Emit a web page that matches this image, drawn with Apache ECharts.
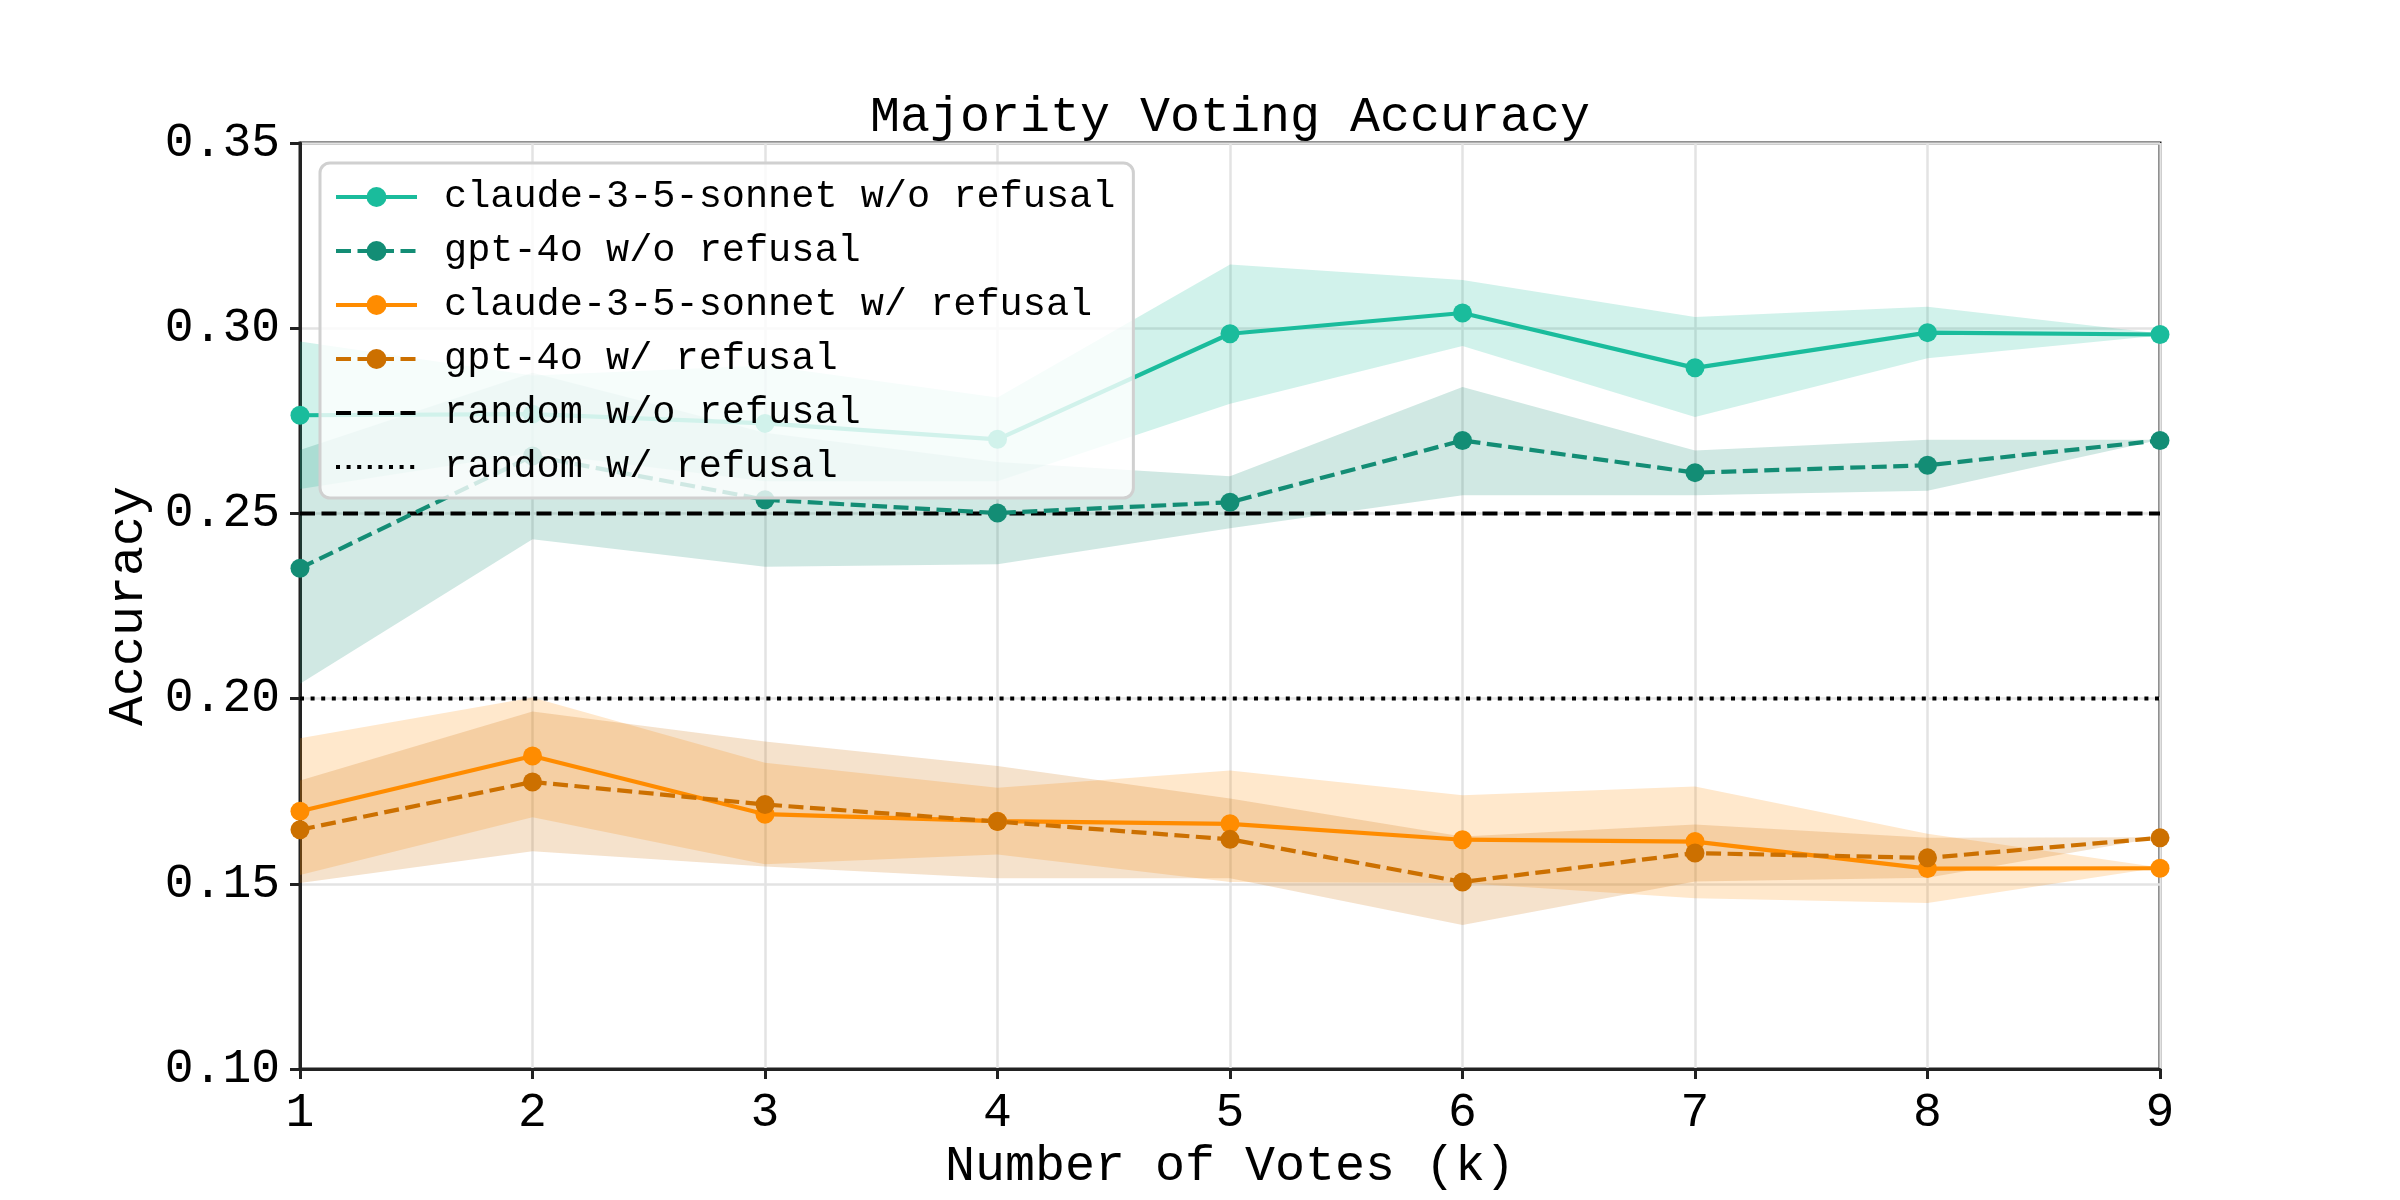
<!DOCTYPE html>
<html><head><meta charset="utf-8">
<script src="https://cdn.jsdelivr.net/npm/echarts@6/dist/echarts.min.js"></script>
<style>html,body{margin:0;padding:0;background:#fff}#c{width:2400px;height:1200px}</style>
</head><body><div id="c"></div>
<script>
// ---- data ----
const votes = ['1', '2', '3', '4', '5', '6', '7', '8', '9'];

const claudeNoRef   = [0.2765, 0.2768, 0.2743, 0.2700, 0.2985, 0.3041, 0.2893, 0.2988, 0.2983];
const claudeNoRefLo = [0.2566, 0.2664, 0.2587, 0.2587, 0.2796, 0.2952, 0.2760, 0.2919, 0.2980];
const claudeNoRefHi = [0.2964, 0.2872, 0.2899, 0.2813, 0.3172, 0.3130, 0.3030, 0.3058, 0.2986];

const gptNoRef   = [0.2352, 0.2655, 0.2537, 0.2501, 0.2530, 0.2697, 0.2610, 0.2630, 0.2697];
const gptNoRefLo = [0.2040, 0.2430, 0.2356, 0.2363, 0.2460, 0.2549, 0.2549, 0.2561, 0.2695];
const gptNoRefHi = [0.2671, 0.2880, 0.2718, 0.2639, 0.2600, 0.2841, 0.2670, 0.2699, 0.2699];

const claudeRef   = [0.1696, 0.1845, 0.1688, 0.1669, 0.1662, 0.1619, 0.1614, 0.1541, 0.1542];
const claudeRefLo = [0.1524, 0.1680, 0.1553, 0.1579, 0.1505, 0.1502, 0.1461, 0.1448, 0.1540];
const claudeRefHi = [0.1893, 0.2003, 0.1827, 0.1759, 0.1806, 0.1739, 0.1763, 0.1635, 0.1544];

const gptRef   = [0.1646, 0.1775, 0.1714, 0.1668, 0.1620, 0.1505, 0.1583, 0.1570, 0.1624];
const gptRefLo = [0.1502, 0.1588, 0.1547, 0.1515, 0.1515, 0.1389, 0.1506, 0.1516, 0.1622];
const gptRefHi = [0.1779, 0.1965, 0.1884, 0.1818, 0.1730, 0.1628, 0.1660, 0.1624, 0.1626];

const randomNoRef = 0.25;
const randomRef = 0.20;

const yTicks = { min: 0.10, max: 0.35, interval: 0.05 };

const names = {
  c1: 'claude-3-5-sonnet w/o refusal',
  g1: 'gpt-4o w/o refusal',
  c2: 'claude-3-5-sonnet w/ refusal',
  g2: 'gpt-4o w/ refusal',
  r1: 'random w/o refusal',
  r2: 'random w/ refusal'
};

// ---- styling ----
const FONT = "'Liberation Mono', 'Courier New', monospace";
const colors = { c1: '#1abc9c', g1: '#138d75', c2: '#ff8c00', g2: '#cc7000' };
const DASH = [15, 6.5];
const DOT = [4, 6.6];

function band(key, lo, hi, rgba) {
  return [
    { type: 'line', stack: 'band-' + key, data: lo, symbol: 'none', silent: true,
      lineStyle: { opacity: 0, width: 0 }, z: 1 },
    { type: 'line', stack: 'band-' + key, data: hi.map((h, i) => h - lo[i]), symbol: 'none', silent: true,
      lineStyle: { opacity: 0, width: 0 }, areaStyle: { color: rgba, opacity: 1 }, z: 1 }
  ];
}

function dataLine(key, data, dashed) {
  return { type: 'line', name: names[key], data: data, symbol: 'circle', symbolSize: 19,
    showAllSymbol: true, z: 3,
    itemStyle: { color: colors[key] },
    lineStyle: { color: colors[key], width: 4.2, type: dashed ? DASH : 'solid' } };
}

function refLine(key, val, dash) {
  return { type: 'line', name: names[key], data: [[votes[0], val], [votes[votes.length - 1], val]],
    symbol: 'none', z: 2, itemStyle: { color: '#000' },
    lineStyle: { color: '#000', width: 4, type: dash } };
}

const chart = echarts.init(document.getElementById('c'), null, { renderer: 'canvas' });
chart.setOption({
  animation: false,
  backgroundColor: '#fff',
  title: {
    text: 'Majority Voting Accuracy', left: 1230, top: 93, textAlign: 'center',
    padding: 0,
    textStyle: { fontFamily: FONT, fontSize: 50, fontWeight: 'normal', color: '#000' }
  },
  grid: { left: 300, right: 240, top: 143, bottom: 131, show: true, borderColor: '#222', borderWidth: 3, backgroundColor: 'transparent' },
  legend: {
    orient: 'vertical', left: 320, top: 163,
    itemWidth: 81, itemHeight: 25, itemGap: 14,
    padding: [14, 18, 11, 14],
    backgroundColor: 'rgba(255,255,255,0.8)', borderColor: '#d0d0d0', borderWidth: 3, borderRadius: 10,
    lineStyle: { width: 4 },
    textStyle: { fontFamily: FONT, fontSize: 38.6, color: '#000', lineHeight: 40, padding: [0, 0, 0, 22] },
    data: [
      { name: names.c1 }, { name: names.g1 }, { name: names.c2 }, { name: names.g2 },
      { name: names.r1, itemStyle: { opacity: 0 } }, { name: names.r2, itemStyle: { opacity: 0 } }
    ]
  },
  xAxis: {
    type: 'category', data: votes, boundaryGap: false,
    name: 'Number of Votes (k)', nameLocation: 'middle', nameGap: 62,
    nameTextStyle: { fontFamily: FONT, fontSize: 50, color: '#000' },
    axisLine: { lineStyle: { color: '#222', width: 3 } },
    axisTick: { show: true, length: 10, alignWithLabel: true, lineStyle: { color: '#222', width: 3 } },
    axisLabel: { fontFamily: FONT, fontSize: 48, color: '#000', margin: 20 },
    splitLine: { show: true, lineStyle: { color: '#e3e3e3', width: 2.5 } }
  },
  yAxis: {
    type: 'value', min: yTicks.min, max: yTicks.max, interval: yTicks.interval,
    name: 'Accuracy', nameLocation: 'middle', nameGap: 142,
    nameTextStyle: { fontFamily: FONT, fontSize: 50, color: '#000' },
    axisLine: { show: true, lineStyle: { color: '#222', width: 3 } },
    axisTick: { show: true, length: 10, lineStyle: { color: '#222', width: 3 } },
    axisLabel: { fontFamily: FONT, fontSize: 48, color: '#000', margin: 20, formatter: v => v.toFixed(2) },
    splitLine: { show: true, lineStyle: { color: '#e3e3e3', width: 2.5 } }
  },
  series: [
    ...band('c1', claudeNoRefLo, claudeNoRefHi, 'rgba(26,188,156,0.2)'),
    ...band('g1', gptNoRefLo, gptNoRefHi, 'rgba(19,141,117,0.2)'),
    ...band('c2', claudeRefLo, claudeRefHi, 'rgba(255,140,0,0.2)'),
    ...band('g2', gptRefLo, gptRefHi, 'rgba(204,112,0,0.2)'),
    refLine('r1', randomNoRef, DASH),
    refLine('r2', randomRef, DOT),
    dataLine('c1', claudeNoRef, false),
    dataLine('g1', gptNoRef, true),
    dataLine('c2', claudeRef, false),
    dataLine('g2', gptRef, true)
  ]
});
</script></body></html>
